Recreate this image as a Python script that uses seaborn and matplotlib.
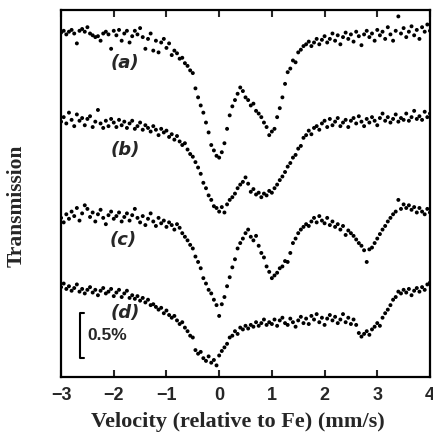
import numpy as np
import pandas as pd
import seaborn as sns
import matplotlib.pyplot as plt

# Velocity channels (mm/s)
velocity = np.round(np.arange(-3, 4.001, 0.05), 2)

# Relative transmission (%), each spectrum around its own baseline
spec_a = [0.01, 0.03, -0.01, 0.02, 0.04, 0.00, -0.11, 0.03, 0.05, 0.02,
          0.07, 0.00, -0.02, -0.04, -0.03, -0.08, 0.00, 0.02, -0.01, -0.17,
          0.03, -0.02, 0.04, -0.08, 0.00, 0.03, -0.10, -0.03, 0.03, -0.01,
          0.06, -0.04, -0.17, -0.06, 0.00, -0.19, -0.08, -0.21, -0.10, -0.06,
          -0.16, -0.11, -0.24, -0.19, -0.22, -0.28, -0.27, -0.33, -0.36, -0.41,
          -0.44, -0.61, -0.71, -0.80, -0.88, -0.99, -1.10, -1.24, -1.30, -1.36,
          -1.38, -1.32, -1.22, -1.06, -0.91, -0.81, -0.74, -0.67, -0.60, -0.64,
          -0.71, -0.74, -0.80, -0.78, -0.86, -0.89, -0.93, -0.99, -1.04, -1.13,
          -1.09, -1.06, -0.93, -0.83, -0.71, -0.56, -0.43, -0.39, -0.30, -0.32,
          -0.21, -0.18, -0.14, -0.12, -0.09, -0.14, -0.10, -0.06, -0.12, -0.07,
          -0.03, -0.10, -0.06, 0.00, -0.08, -0.02, -0.12, -0.04, 0.01, -0.06,
          -0.01, -0.09, 0.02, -0.03, -0.13, -0.01, 0.03, -0.04, 0.00, -0.08,
          0.04, -0.02, 0.02, -0.06, 0.07, -0.01, -0.08, 0.03, 0.19, 0.00,
          0.06, -0.04, 0.02, 0.08, -0.02, 0.04, -0.06, 0.07, 0.02, 0.10,
          0.03]

spec_b = [-0.02, 0.03, -0.04, 0.08, 0.00, -0.07, 0.06, -0.01, 0.02, -0.06,
          0.01, 0.04, -0.08, -0.02, 0.11, -0.04, -0.09, -0.01, -0.07, 0.01,
          -0.03, -0.08, 0.00, -0.06, -0.02, -0.09, -0.04, -0.01, -0.10, -0.07,
          -0.03, -0.11, -0.06, -0.09, -0.13, -0.07, -0.11, -0.17, -0.10, -0.14,
          -0.12, -0.19, -0.16, -0.22, -0.18, -0.24, -0.28, -0.26, -0.33, -0.38,
          -0.41, -0.47, -0.53, -0.60, -0.70, -0.76, -0.84, -0.89, -0.96, -0.98,
          -1.02, -0.97, -1.03, -0.94, -0.89, -0.86, -0.82, -0.76, -0.72, -0.69,
          -0.64, -0.71, -0.80, -0.77, -0.83, -0.81, -0.86, -0.82, -0.84, -0.79,
          -0.81, -0.76, -0.72, -0.67, -0.63, -0.58, -0.52, -0.48, -0.42, -0.39,
          -0.32, -0.29, -0.20, -0.17, -0.12, -0.16, -0.09, -0.07, -0.11, -0.04,
          -0.01, -0.08, 0.01, -0.06, -0.02, 0.02, -0.07, -0.03, 0.00, -0.08,
          -0.01, 0.02, -0.04, 0.04, -0.02, -0.07, 0.01, -0.03, 0.03, -0.01,
          -0.06, 0.02, 0.07, -0.01, 0.03, -0.03, 0.01, 0.06, -0.02, 0.02,
          0.00, 0.07, -0.01, 0.03, 0.10, 0.01, 0.04, 0.00, 0.09, 0.03,
          0.07]

spec_c = [-0.03, -0.08, 0.01, -0.04, 0.04, -0.01, 0.08, -0.06, 0.02, 0.11,
          0.07, -0.02, 0.03, -0.07, 0.01, 0.06, -0.03, -0.10, 0.00, 0.04,
          -0.04, -0.01, 0.03, -0.07, -0.02, 0.02, -0.06, 0.00, 0.07, -0.03,
          -0.08, -0.01, -0.11, -0.04, 0.02, -0.07, -0.12, -0.03, -0.09, -0.06,
          -0.13, -0.08, -0.11, -0.16, -0.10, -0.14, -0.20, -0.24, -0.28, -0.33,
          -0.37, -0.46, -0.52, -0.59, -0.70, -0.76, -0.83, -0.87, -0.94, -1.00,
          -1.12, -0.99, -0.91, -0.79, -0.69, -0.58, -0.49, -0.37, -0.31, -0.26,
          -0.20, -0.16, -0.24, -0.28, -0.23, -0.34, -0.42, -0.47, -0.57, -0.63,
          -0.70, -0.67, -0.64, -0.59, -0.57, -0.51, -0.52, -0.42, -0.31, -0.26,
          -0.20, -0.16, -0.13, -0.10, -0.12, -0.07, -0.03, -0.08, -0.01, -0.06,
          -0.09, -0.03, -0.11, -0.07, -0.13, -0.10, -0.16, -0.12, -0.22, -0.17,
          -0.20, -0.23, -0.27, -0.31, -0.34, -0.39, -0.52, -0.38, -0.36, -0.31,
          -0.26, -0.21, -0.16, -0.12, -0.07, -0.03, 0.01, 0.04, 0.17, 0.07,
          0.12, 0.08, 0.11, 0.06, 0.09, 0.03, 0.08, 0.04, 0.01, 0.07,
          0.03]

spec_d = [0.03, 0.07, 0.01, 0.04, -0.01, 0.02, 0.06, -0.02, 0.01, -0.04,
          0.00, 0.03, -0.03, 0.00, -0.06, -0.01, 0.02, -0.04, -0.02, 0.01,
          -0.07, -0.03, 0.00, -0.08, -0.04, -0.01, -0.09, -0.06, -0.10, -0.07,
          -0.12, -0.09, -0.14, -0.11, -0.17, -0.16, -0.19, -0.22, -0.20, -0.26,
          -0.23, -0.28, -0.31, -0.29, -0.34, -0.38, -0.36, -0.42, -0.46, -0.51,
          -0.53, -0.67, -0.71, -0.69, -0.76, -0.79, -0.74, -0.81, -0.78, -0.84,
          -0.73, -0.68, -0.64, -0.60, -0.53, -0.51, -0.46, -0.49, -0.42, -0.44,
          -0.40, -0.43, -0.39, -0.41, -0.36, -0.40, -0.37, -0.33, -0.39, -0.36,
          -0.38, -0.33, -0.40, -0.34, -0.31, -0.37, -0.39, -0.32, -0.36, -0.41,
          -0.34, -0.30, -0.37, -0.32, -0.38, -0.29, -0.33, -0.27, -0.36, -0.31,
          -0.39, -0.32, -0.28, -0.34, -0.30, -0.37, -0.33, -0.27, -0.36, -0.31,
          -0.38, -0.33, -0.39, -0.48, -0.52, -0.49, -0.46, -0.50, -0.44, -0.41,
          -0.37, -0.40, -0.31, -0.26, -0.22, -0.17, -0.11, -0.08, -0.02, -0.04,
          0.00, -0.03, 0.01, -0.06, -0.01, 0.02, -0.02, 0.03, 0.00, 0.06,
          0.08]

spectra = [spec_a, spec_b, spec_c, spec_d]
names = ['(a)', '(b)', '(c)', '(d)']
offsets = [0.37, 1.33, 2.39, 3.22]   # vertical shift of each spectrum (%)
scale_pct = 0.5

frames = []
for nombre, vals, off in zip(names, spectra, offsets):
    frames.append(pd.DataFrame({'velocity': velocity,
                                'trans': np.array(vals) - off,
                                'spectrum': nombre}))
df = pd.concat(frames, ignore_index=True)

sns.set_style('white')
fig = plt.figure(figsize=(4.33, 4.40), dpi=100)
ax = fig.add_axes([0.141, 0.143, 0.852, 0.834])

sns.scatterplot(data=df, x='velocity', y='trans', color='black', s=8,
                edgecolor='none', legend=False, ax=ax)

ax.set_xlim(-3, 4)
ax.set_ylim(-4.19, -0.11)
ax.set_yticks([])
ax.set_xticks(range(-3, 5))
ax.tick_params(axis='x', direction='in', top=True, bottom=True,
               length=5, width=1.5, pad=7, labelsize=13)
for lab in ax.get_xticklabels():
    lab.set_fontweight('bold')
    lab.set_family('Liberation Sans')
for sp in ax.spines.values():
    sp.set_linewidth(1.6)
    sp.set_color('black')

ax.set_xlabel('Velocity (relative to Fe) (mm/s)', family='Liberation Serif',
              fontweight='bold', fontsize=16)
ax.set_ylabel('Transmission', family='Liberation Serif',
              fontweight='bold', fontsize=15.5)
ax.xaxis.set_label_coords(0.48, -0.095)
ax.yaxis.set_label_coords(-0.092, 0.466)

# spectrum labels
label_pos = [(-1.79, -0.70), (-1.79, -1.67), (-1.82, -2.67), (-1.79, -3.48)]
for nombre, (lx, ly) in zip(names, label_pos):
    ax.text(lx, ly, nombre, ha='center', va='center', fontsize=13,
            fontweight='bold', style='italic', family='DejaVu Sans')

# scale bar
bx, by = -2.64, -3.48
ax.plot([bx + 0.08, bx, bx, bx + 0.08], [by, by, by - scale_pct, by - scale_pct],
        color='black', lw=1.5)
ax.text(bx + 0.13, by - scale_pct / 2, f'{scale_pct}%', ha='left', va='center',
        fontsize=12.5, fontweight='bold', family='Liberation Sans')

plt.savefig('out.png', dpi=100)
